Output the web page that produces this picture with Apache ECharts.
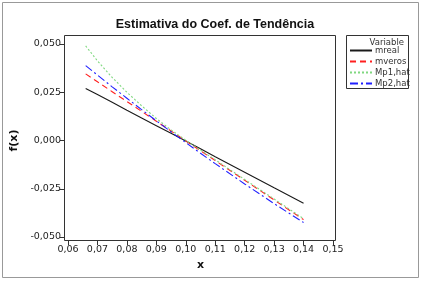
<!DOCTYPE html>
<html><head><meta charset="utf-8">
<script src="https://cdn.jsdelivr.net/npm/echarts@6/dist/echarts.min.js"></script>
<style>html,body{margin:0;padding:0;background:#fff}#c{width:422px;height:285px}</style>
</head><body><div id="c"></div>
<script>
const titleText = 'Estimativa do Coef. de Tendência';
const seriesNames = ['mreal', 'mveros', 'Mp1,hat', 'Mp2,hat'];
const xs = [0.066, 0.07, 0.075, 0.08, 0.085, 0.09, 0.095, 0.10, 0.105, 0.11, 0.12, 0.13, 0.14];
const mreal  = [0.0270, 0.0238, 0.0198, 0.0157, 0.0117, 0.0077, 0.0037, -0.0003, -0.0043, -0.0084, -0.0164, -0.0245, -0.0325];
const mveros = [0.0345, 0.0304, 0.0253, 0.0202, 0.0151, 0.0100, 0.0049, -0.0002, -0.0053, -0.0104, -0.0206, -0.0308, -0.0410];
const mp1hat = [0.0490, 0.0413, 0.0327, 0.0250, 0.0180, 0.0114, 0.0055, 0.0001, -0.0050, -0.0100, -0.0202, -0.0303, -0.0405];
const mp2hat = [0.0388, 0.0339, 0.0278, 0.0219, 0.0160, 0.0102, 0.0045, -0.0011, -0.0066, -0.0120, -0.0225, -0.0327, -0.0425];
const xTicks = {min: 0.06, max: 0.15, step: 0.01};
const yTicks = {min: -0.05, max: 0.05, step: 0.025};

const allVals = [mreal, mveros, mp1hat, mp2hat];
const styles = [
  {color: '#1a1a1a', type: 'solid'},
  {color: '#ff2020', type: [6, 4]},
  {color: '#80d880', type: [2, 2]},
  {color: '#2020ff', type: [8, 3, 2, 3]}
];
const font = 'Tahoma, "DejaVu Sans", sans-serif';
const chart = echarts.init(document.getElementById('c'), null, {renderer: 'canvas'});
chart.setOption({
  animation: false,
  backgroundColor: '#fff',
  title: {text: titleText, left: 210, textAlign: 'center', top: 13,
    textStyle: {fontFamily: 'Liberation Sans', fontWeight: 'bold', fontSize: 12.5, color: '#111'}},
  grid: {left: 68, right: 422 - 333, top: 44, bottom: 285 - 237, containLabel: false},
  xAxis: {type: 'value', min: xTicks.min, max: xTicks.max, interval: xTicks.step, offset: 4,
    name: 'x', nameLocation: 'middle', nameGap: 19,
    nameTextStyle: {fontFamily: font, fontWeight: 'bold', fontSize: 11, color: '#111'},
    axisLine: {show: false, onZero: false}, splitLine: {show: false},
    axisTick: {show: true, length: 4, lineStyle: {color: '#333'}},
    axisLabel: {fontFamily: font, fontSize: 9.5, color: '#222', margin: 4,
      formatter: v => v.toFixed(2).replace('.', ',')}},
  yAxis: {type: 'value', min: yTicks.min, max: yTicks.max, interval: yTicks.step, offset: 4,
    name: 'f(x)', nameLocation: 'middle', nameGap: 37, nameRotate: 90,
    nameTextStyle: {fontFamily: font, fontWeight: 'bold', fontSize: 11, color: '#111'},
    axisLine: {show: false, onZero: false}, splitLine: {show: false},
    axisTick: {show: true, length: 4, lineStyle: {color: '#333'}},
    axisLabel: {fontFamily: font, fontSize: 9.5, color: '#222', margin: 3,
      formatter: v => v.toFixed(3).replace('.', ',')}},
  legend: {orient: 'vertical', left: 349, top: 46, itemWidth: 22, itemHeight: 8, itemGap: 2,
    padding: 0, itemStyle: {opacity: 0},
    textStyle: {fontFamily: font, fontSize: 8.5, color: '#333', padding: [0, 0, 0, -2]},
    data: seriesNames},
  graphic: [
    {type: 'rect', shape: {x: 2.5, y: 2.5, width: 416, height: 275}, style: {fill: 'none', stroke: '#999', lineWidth: 1}, silent: true, z: -1},
    {type: 'rect', shape: {x: 64.5, y: 35.5, width: 271, height: 205}, style: {fill: 'none', stroke: '#333', lineWidth: 1}, silent: true},
    {type: 'rect', shape: {x: 346.5, y: 35.5, width: 62, height: 53}, style: {fill: 'none', stroke: '#333', lineWidth: 1}, silent: true},
    {type: 'text', x: 404, y: 38, style: {text: 'Variable', fontFamily: font, fontSize: 8.5, fill: '#333', align: 'right', verticalAlign: 'top'}, silent: true}
  ],
  series: seriesNames.map((n, i) => ({
    name: n, type: 'line', symbol: 'none', smooth: false,
    data: xs.map((x, j) => [x, allVals[i][j]]),
    lineStyle: {color: styles[i].color, type: styles[i].type, width: 1.1},
    itemStyle: {color: styles[i].color}
  }))
});
</script></body></html>
